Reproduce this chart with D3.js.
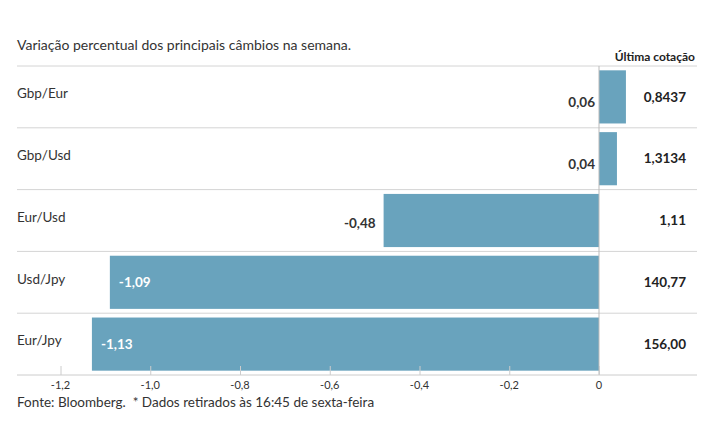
<!DOCTYPE html>
<html><head><meta charset="utf-8">
<script src="https://cdn.jsdelivr.net/npm/d3@7"></script>
<style>
body{margin:0;background:#fff;}
text{font-family:Lato, "Noto Sans", sans-serif;}
</style></head>
<body>
<svg id="chart" width="715" height="445"></svg>
<script>
const categories = ["Gbp/Eur","Gbp/Usd","Eur/Usd","Usd/Jpy","Eur/Jpy"];
const changes = [0.06, 0.04, -0.48, -1.09, -1.13];
const quotes = ["0,8437","1,3134","1,11","140,77","156,00"];
const tickValues = [-1.2,-1.0,-0.8,-0.6,-0.4,-0.2,0];
const titleText = "Variação percentual dos principais câmbios na semana.";
const quoteHeader = "Última cotação";
const footerText = "Fonte: Bloomberg.\u00a0 * Dados retirados às 16:45 de sexta-feira";

(function(){
const svg = d3.select("#chart");
const pl = 17, pr = 697, pt = 66, pb = 375;
const x = d3.scaleLinear().domain([-1.2, 0]).range([60.5, 599]);
const y = d3.scaleBand().domain(categories).range([pt, pb]).paddingInner(0.14).paddingOuter(0.07);
const fmt = v => v.toFixed(2).replace(".", ",");
const tickFmt = v => v === 0 ? "0" : v.toFixed(1).replace(".", ",");
const color = "#69a3bd";
const txt = "#333";

svg.append("text").attr("x", pl).attr("y", 50).attr("font-size", 14).attr("fill", txt).text(titleText);
svg.append("text").attr("x", 695).attr("y", 61).attr("text-anchor", "end").attr("font-size", 12).attr("font-weight", "bold").attr("fill", "#222").text(quoteHeader);

const step = y.step();
const seps = [pt].concat(categories.slice(1).map(c => y(c) - step * y.paddingInner() / 2));
svg.selectAll("line.sep").data(seps).enter().append("line")
  .attr("x1", pl).attr("x2", pr).attr("y1", d => d).attr("y2", d => d)
  .attr("stroke", "#d4d4d4").attr("stroke-width", 1);

svg.selectAll("rect.bar").data(categories).enter().append("rect")
  .attr("x", (d, i) => x(Math.min(0, changes[i])))
  .attr("width", (d, i) => Math.abs(x(changes[i]) - x(0)))
  .attr("y", d => y(d)).attr("height", y.bandwidth())
  .attr("fill", color);

svg.append("line").attr("x1", x(0)).attr("x2", x(0)).attr("y1", pt).attr("y2", pb)
  .attr("stroke", "#bbb").attr("stroke-width", 1);

const axisG = svg.append("g").attr("transform", `translate(0,${pb})`);
axisG.append("line").attr("x1", pl).attr("x2", pr).attr("y1", 0).attr("y2", 0).attr("stroke", "#ccc");
const axis = d3.axisTop(x).tickValues(tickValues).tickFormat("").tickSize(9).tickSizeOuter(0);
const ag = axisG.append("g").call(axis);
ag.select(".domain").remove();
ag.selectAll(".tick line").attr("stroke", "#ccc");
axisG.selectAll("text.tl").data(tickValues).enter().append("text")
  .attr("x", d => x(d)).attr("y", 14).attr("text-anchor", "middle")
  .attr("font-size", 11).attr("fill", txt).text(tickFmt);

svg.selectAll("text.cat").data(categories).enter().append("text")
  .attr("x", pl).attr("y", d => y(d) + y.bandwidth() / 2).attr("dy", "0.1em")
  .attr("font-size", 13.5).attr("fill", txt).text(d => d);

svg.selectAll("text.val").data(categories).enter().append("text")
  .attr("x", (d, i) => {
    const v = changes[i];
    if (v >= 0) return x(0) - 4;
    if (v > -0.8) return x(v) - 8;
    return x(v) + 9;
  })
  .attr("text-anchor", (d, i) => changes[i] > -0.8 ? "end" : "start")
  .attr("y", d => y(d) + y.bandwidth() / 2)
  .attr("dy", (d, i) => changes[i] >= 0 ? "0.75em" : (changes[i] > -0.8 ? "0.55em" : "0.35em"))
  .attr("font-size", 13.5).attr("font-weight", "bold")
  .attr("fill", (d, i) => changes[i] <= -0.8 ? "#fff" : txt)
  .text((d, i) => fmt(changes[i]));

svg.selectAll("text.q").data(categories).enter().append("text")
  .attr("x", 686).attr("text-anchor", "end")
  .attr("y", d => y(d) + y.bandwidth() / 2).attr("dy", "0.35em")
  .attr("font-size", 13.5).attr("font-weight", "bold").attr("fill", "#222")
  .text((d, i) => quotes[i]);

svg.append("text").attr("x", pl).attr("y", 407).attr("font-size", 13.5).attr("fill", txt).text(footerText);
})();
</script>
</body></html>
